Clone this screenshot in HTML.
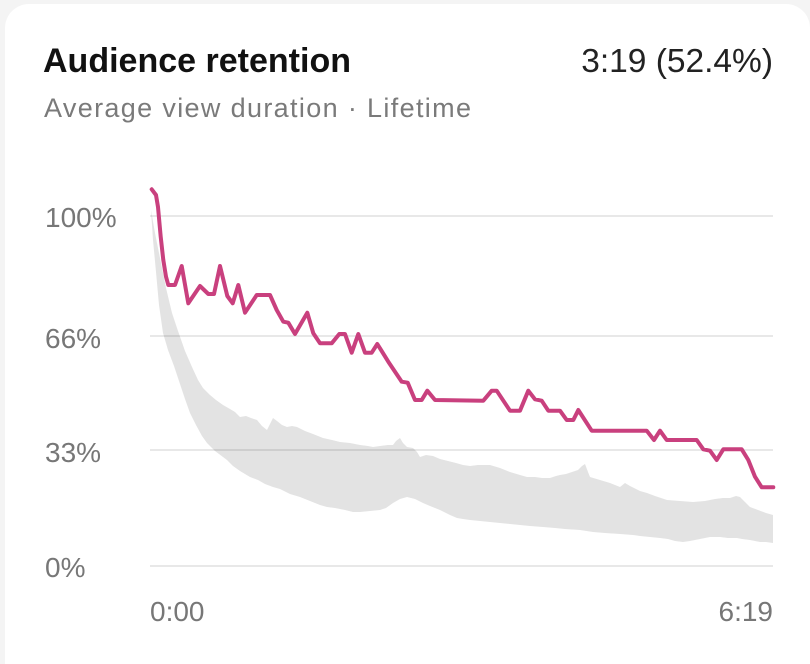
<!DOCTYPE html>
<html>
<head>
<meta charset="utf-8">
<style>
  html { margin: 0; padding: 0; width: 810px; height: 664px; overflow: hidden; background: #f4f4f4; }
  body { margin: 0; padding: 0; width: 810px; height: 664px; background: #f4f4f4; overflow: hidden; position: relative; }
  .card { position: absolute; left: 5px; top: 4px; width: 805px; height: 660px; background: #ffffff; border-radius: 24px 24px 0 0; }
  svg { position: absolute; left: 0; top: 0; }
  text { font-family: "Liberation Sans", "DejaVu Sans", sans-serif; }
</style>
</head>
<body>
<div class="card"></div>
<svg width="810" height="664" viewBox="0 0 810 664" xmlns="http://www.w3.org/2000/svg">
  <!-- Header -->
  <text x="43" y="72" font-size="34.5" font-weight="bold" fill="#111" textLength="308" lengthAdjust="spacingAndGlyphs">Audience retention</text>
  <text x="773" y="72" font-size="33.5" fill="#222" text-anchor="end">3:19 (52.4%)</text>
  <text x="44" y="117" font-size="27" fill="#7a7a7a" textLength="427" lengthAdjust="spacing">Average view duration · Lifetime</text>

  <!-- Gray band (typical retention range) -->
  <polygon fill="#e3e3e3" points="
    151,210 155,233 160,258 166,288 172,313 178,331 185,351 192,367 198,380 203,388 210,395 216,400 223,405 230,409 235,412 240,417 246,416 251,418 257,420 262,426 267,430 270,424 273,418 277,421 282,425 287,427 292,426 297,427 305,431 313,434 323,438 332,440 340,442 350,443 360,445 368,446 373,447 380,446 388,445 393,445 396,441 400,438 403,443 407,447 413,448 417,452 420,457 426,455 433,456 440,459 448,461 456,463 463,465 470,466 478,465 490,465 500,468 510,472 520,475 527,477 535,477 542,478 550,478 556,476 560,475 566,474 572,472 578,470 582,466 585,464 588,472 590,477 600,480 610,483 620,487 625,483 630,486 640,491 647,493 655,496 667,500 680,501 693,502 705,501 715,499 723,498 730,498 736,496 740,497 745,502 750,507 758,510 766,513 773,515
    773,543 766,542 760,542 750,540 742,539 737,538 728,538 720,537 710,537 700,539 690,541 683,542 675,541 668,539 660,538 650,537 640,536 633,535 620,534 605,533 593,532 580,530 565,529 555,528 543,527 530,526 520,525 510,524 500,523 490,522 480,521 470,520 463,519 457,518 450,515 440,510 430,506 423,503 415,499 407,497 400,499 393,503 386,508 380,510 370,511 360,512 353,512 345,510 335,508 327,507 320,505 310,501 300,497 290,494 280,489 273,487 265,484 258,480 250,477 240,471 233,466 227,460 215,451 207,443 202,436 196,425 190,413 185,399 180,384 174,366 168,350 163,333 159,305 156,272 153,240"/>

  <!-- Grid lines -->
  <g stroke="rgba(0,0,0,0.09)" stroke-width="2">
    <line x1="150" y1="216" x2="773" y2="216"/>
    <line x1="150" y1="336" x2="773" y2="336"/>
    <line x1="150" y1="450" x2="773" y2="450"/>
    <line x1="150" y1="566" x2="773" y2="566"/>
  </g>

  <!-- Y labels -->
  <g font-size="28" fill="#777">
    <text x="45" y="227">100%</text>
    <text x="45" y="348">66%</text>
    <text x="45" y="462">33%</text>
    <text x="45" y="577">0%</text>
  </g>

  <!-- X labels -->
  <g font-size="28" fill="#777">
    <text x="150" y="621">0:00</text>
    <text x="773" y="621" text-anchor="end">6:19</text>
  </g>

  <!-- Retention line -->
  <polyline fill="none" stroke="#c9407e" stroke-width="4" stroke-linejoin="round" stroke-linecap="round" points="
    151.7,189.3 156,195 158,207 160.7,236.7 163.3,260 166,276.7 168.3,285 175,285 181.7,266 188.3,303.3 200,286 208.3,294 214,294 220,266 227.3,296 232.7,303.3 238.3,285 245,312.7 256.7,295 270,295 276.7,310 283.3,321.7 288.3,322.7 295,334 307.3,312.7 313.3,333.3 320,343.3 331.7,343.3 339.3,334 345,334 351.7,352.7 358.3,334 365,352.7 371.7,352.7 377.3,344 388.3,361.7 401.7,381.7 407.7,382.7 415,400 421.7,400 427.3,390.7 435,400 483.3,400.7 491.7,390.7 496.7,390.7 510,410.7 520,410.7 528.3,390.7 535,399.3 541.7,400.7 548.3,410.7 560,410.7 566.7,420 573.3,420 578.3,410 591.7,430.7 646.7,430.7 654,440 660,430.7 666.7,440 696.7,440 703.3,449.3 710,450.7 716.7,460 723.3,449.3 741.7,449.3 748.3,460 755,476.7 761.7,487.3 773.3,487.3"/>
</svg>
</body>
</html>
